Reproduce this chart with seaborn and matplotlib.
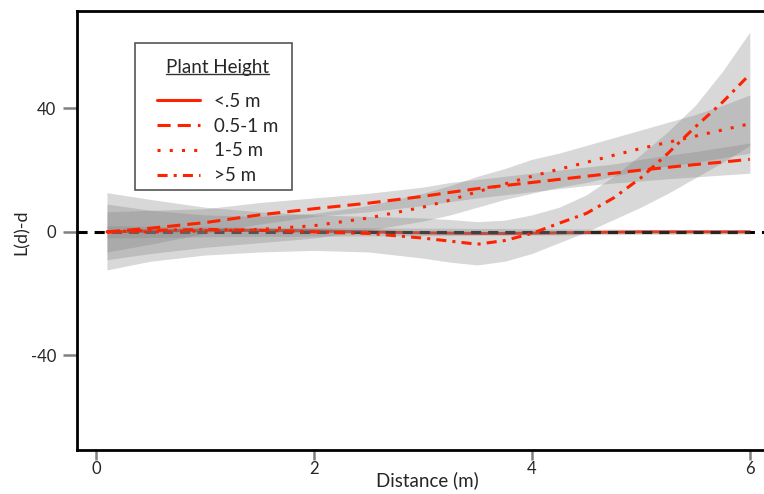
import numpy as np
import pandas as pd
import matplotlib
matplotlib.use("Agg")
import matplotlib.pyplot as plt
import seaborn as sns
from matplotlib.lines import Line2D
from matplotlib.patches import Rectangle

# Dados
distancia = [0.1, 0.5, 1.0, 1.5, 2.0, 2.5, 3.0, 3.25, 3.5, 3.75,
             4.0, 4.25, 4.5, 4.75, 5.0, 5.25, 5.5, 5.75, 6.0]

grupos = ["<.5 m", "0.5-1 m", "1-5 m", ">5 m"]

l_menor_05 = [0, 0.3, 0.5, 0.5, 0.3, 0, -0.3, -0.4, -0.5, -0.5,
              -0.4, -0.3, -0.2, -0.1, 0, 0, 0, 0, 0]
l_05_1 = [0, 1.2, 3, 5.5, 7.5, 9.3, 11.5, 12.8, 14, 15,
          16, 17, 18, 19, 20, 20.9, 21.8, 22.6, 23.5]
l_1_5 = [0, 0, 0.3, 0.8, 2, 4.5, 8, 10.3, 13, 15.5,
         18, 20.3, 22.5, 24.8, 27, 29, 31, 33, 35]
l_maior_5 = [0, 0.5, 0.8, 0.5, 0, -0.5, -2, -3, -4, -2.8,
             -0.5, 2.8, 6, 11, 17.5, 25.5, 34, 42, 51]

# limites das bandas de confiança
inf_menor_05 = [-2, -1.8, -1.6, -1.5, -1.4, -1.3, -1.2, -1.2, -1.1, -1.1,
                -1, -1, -0.9, -0.9, -0.8, -0.8, -0.7, -0.7, -0.7]
sup_menor_05 = [2, 1.8, 1.6, 1.5, 1.4, 1.3, 1.2, 1.2, 1.1, 1.1,
                1, 1, 0.9, 0.9, 0.8, 0.8, 0.7, 0.7, 0.7]
inf_05_1 = [-6.5, -4, -0.5, 2.5, 5, 6.5, 8.5, 9.8, 11, 12,
            13, 14, 15, 15.8, 16.5, 17.2, 17.8, 18.4, 19]
sup_05_1 = [6.5, 7, 7.5, 9.5, 11, 12.5, 14.5, 16, 17, 18,
            19, 20, 21, 22, 23.5, 24.8, 26, 27.4, 28.8]
inf_1_5 = [-9, -7, -5, -3.5, -2, 0.5, 3.5, 5.5, 8, 10.5,
           12.5, 14.5, 16, 18, 20, 21.3, 22.5, 24, 25.5]
sup_1_5 = [9, 7, 5.5, 5, 6, 8.5, 12.5, 15, 18, 20.5,
           23.5, 25.5, 28, 30.5, 33, 35.5, 38, 41, 44.3]
inf_maior_5 = [-12.3, -9.5, -7.5, -6.5, -6, -6.5, -8.5, -9.8, -10.7, -9.5,
               -7, -3.5, 0, 4, 8, 12.5, 17.5, 22.5, 28]
sup_maior_5 = [12.7, 10.5, 8, 6.5, 5.5, 5, 4.5, 4, 3.3, 3.8,
               5.5, 8, 12, 18, 25, 32.5, 41, 52, 64.7]

medias = [l_menor_05, l_05_1, l_1_5, l_maior_5]
inferiores = [inf_menor_05, inf_05_1, inf_1_5, inf_maior_5]
superiores = [sup_menor_05, sup_05_1, sup_1_5, sup_maior_5]

estilos = ["-", (0, (4.3, 2.3)), (0, (1, 3)), (0, (3.3, 2, 1, 2))]
ordem_z = [1, 4, 4, 4]
vermelho = "#ff2200"

sns.set_style("white")
plt.rcParams["font.family"] = ["Lato", "DejaVu Sans"]
plt.rcParams["axes.unicode_minus"] = False

W, H = 764, 494
fig = plt.figure(figsize=(W / 100, H / 100), dpi=100)
ax = fig.add_axes([77 / W, 44 / H, 687 / W, 439 / H])

# linha de referência em zero
ax.axhline(0, color="black", lw=2.2, ls=(0, (3.3, 2.3)), zorder=2)

for lo, hi in zip(inferiores, superiores):
    ax.fill_between(distancia, lo, hi, color="gray", alpha=0.3, lw=0, zorder=3)

for nome, m, ls, z in zip(grupos, medias, estilos, ordem_z):
    df = pd.DataFrame({"Distancia": distancia, "L": m})
    sns.lineplot(data=df, x="Distancia", y="L", ax=ax, color=vermelho,
                 lw=2.2, linestyle=ls, errorbar=None, zorder=z)

ax.set_xlim(-0.175, 6.13)
ax.set_ylim(-70.6, 71.5)
ax.set_xticks([0, 2, 4, 6])
ax.set_yticks([-40, 0, 40])
ax.tick_params(axis="x", direction="out", length=7, width=1.8, color="gray",
               labelsize=12, pad=1, bottom=True)
ax.tick_params(axis="y", direction="out", length=10, width=1.8, color="gray",
               labelsize=12, pad=5, left=True)
ax.set_xlabel("Distance (m)", fontsize=13.5)
ax.xaxis.set_label_coords((427 - 77) / 687, -(471 - 450) / 439)
ax.set_ylabel("L(d)-d", fontsize=13)
ax.yaxis.set_label_coords(-(77 - 30) / 687, (450 - 232) / 439)
for lado in ["left", "bottom", "top"]:
    ax.spines[lado].set_color("black")
    ax.spines[lado].set_linewidth(2)
ax.spines["right"].set_visible(False)

# moldura da legenda
ax.add_patch(Rectangle((135 / W, 1 - 190 / H), 157 / W, 147 / H,
                       transform=fig.transFigure, facecolor="white",
                       edgecolor="#555555", lw=1.2, zorder=4.9, clip_on=False))

handles = [Line2D([0], [0], color=vermelho, lw=2.2, linestyle=ls) for ls in estilos]
leg = ax.legend(handles, grupos, title="Plant Height",
                loc="upper left", bbox_to_anchor=(157 / W, 1 - 59 / H),
                bbox_transform=fig.transFigure,
                fontsize=13.5, title_fontsize=13.5, frameon=False,
                handlelength=2.3, handletextpad=0.75,
                labelspacing=0.42, borderpad=0, borderaxespad=0)
leg._legend_box.sep = 12

# sublinhado do título da legenda
fig.canvas.draw()
bb = leg.get_title().get_window_extent()
y_sub = bb.y0 + 2.5
fig.add_artist(Line2D([bb.x0 / W, bb.x1 / W], [y_sub / H, y_sub / H],
                      color="#333333", lw=1.0, transform=fig.transFigure))

fig.savefig("out.png", dpi=100)
